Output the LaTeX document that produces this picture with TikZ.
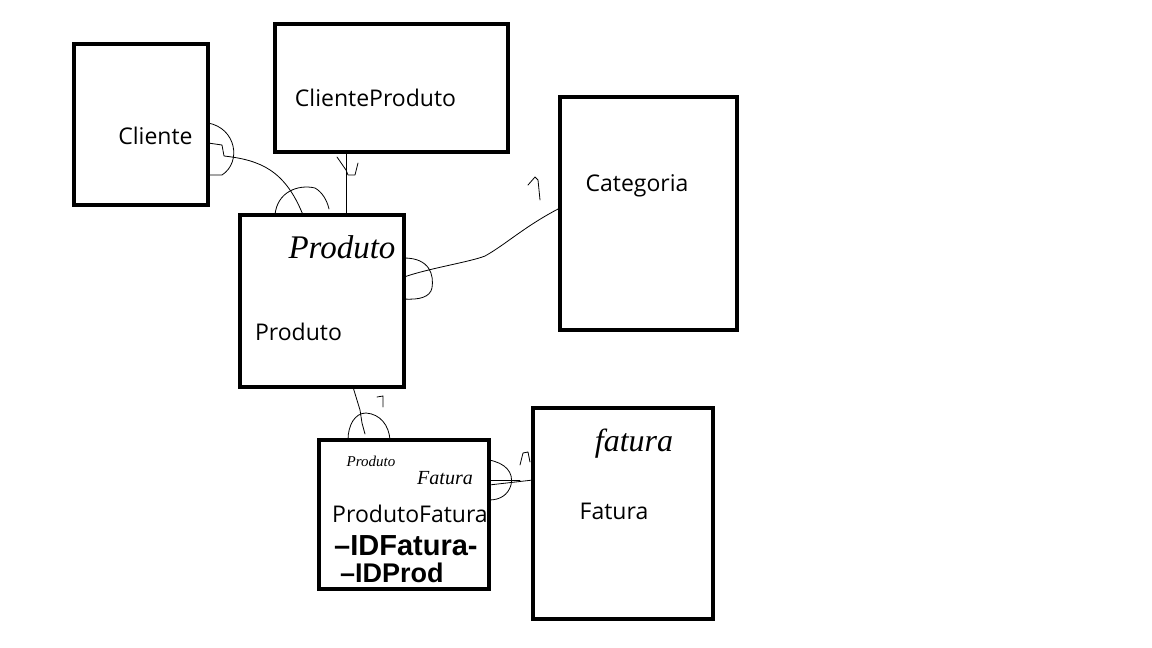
\documentclass[tikz,border=0pt]{standalone}
\usepackage{fontspec}
\setmainfont{Open Sans}
\newfontfamily\handfont{Liberation Serif}
\newfontfamily\boldhand{Liberation Sans}
\begin{document}
\begin{tikzpicture}[x=1pt,y=-1pt,
  entity/.style={draw=black,line width=4pt,minimum width=#1,inner sep=0pt,outer sep=0pt},
  lbl/.style={font=\fontsize{23}{26}\selectfont,inner sep=0pt},
  hand/.style={font=\handfont\itshape\fontsize{#1}{#1}\selectfont,inner sep=0pt},
  boldnote/.style={font=\boldhand\bfseries\fontsize{#1}{#1}\selectfont,inner sep=0pt},
  pen/.style={draw=black,line width=0.8pt,line join=round,line cap=round}]
\useasboundingbox (0,0) rectangle (1152,648);
\fill[white] (0,0) rectangle (1152,648);
% entities
\node[entity=134pt,minimum height=161pt] (cli) at (141,124.5) {};
\node[entity=233pt,minimum height=128pt] (clp) at (391.5,88) {};
\node[entity=177pt,minimum height=233pt] (cat) at (648.5,213.5) {};
\node[entity=164pt,minimum height=172pt] (pro) at (322,301) {};
\node[entity=170pt,minimum height=149pt] (pf) at (404,514.5) {};
\node[entity=180pt,minimum height=211pt] (fat) at (623,513.5) {};
% labels
\node[lbl] (lcli) at (155.5,136) {Cliente};
\node[lbl] (lclp) at (375.5,98) {ClienteProduto};
\node[lbl] (lcat) at (637,186) {Categoria};
\node[lbl] (lpro) at (298.5,332) {Produto};
\node[lbl] (lpf) at (410,514) {ProdutoFatura};
\node[lbl] (lfat) at (614,511) {Fatura};
% handwritten notes
\node[hand=33] (hpro) at (342,247) {Produto};
\node[hand=15] (hpf1) at (371,461) {Produto};
\node[hand=20] (hpf2) at (445,478) {Fatura};
\node[hand=32] (hfat) at (634,444) {fatura};
\node[boldnote=29,anchor=west] (id1) at (334,546) {–IDFatura-};
\node[boldnote=27,anchor=west] (id2) at (340,573) {–IDProd};
% Cliente -- Produto
\draw[pen] (cli.east |- 0,143) -- (222,145) -- (224,156)
  .. controls (260,160) and (285,170) .. (pro.north -| 303,0);
\draw[pen] (cli.east |- 0,123) .. controls (236,128) and (242,162) .. (222,175) -- (cli.east |- 0,175);
\draw[pen] (pro.north -| 275,0) .. controls (277,192) and (298,184) .. (315,188)
  .. controls (322,192) and (327,200) .. (329,209);
% ClienteProduto -- Produto
\draw[pen] (clp.south -| 346.5,0) -- (pro.north -| 346.5,0);
\draw[pen] (337,157) -- (346,170) -- (348,175) -- (355,175) -- (358,163);
% Produto -- Categoria
\draw[pen] (pro.east |- 0,277) .. controls (430,268) and (470,262) .. (485,256)
  .. controls (505,245) and (525,226) .. (cat.west |- 0,208);
\draw[pen] (pro.east |- 0,258) .. controls (430,258) and (434,275) .. (432,288)
  .. controls (430,297) and (420,300) .. (pro.east |- 0,299);
\draw[pen] (528,185) -- (535,177) -- (538,180) -- (540,200);
% Produto -- ProdutoFatura
\draw[pen] (pro.south -| 353,0) -- (360,410) -- (362,423) -- (365,434);
\draw[pen] (pf.north -| 348,0) .. controls (348,425) and (355,413) .. (366,413)
  .. controls (380,414) and (389,425) .. (pf.north -| 390,0);
\draw[pen] (377,397) -- (383,396) -- (383,407);
% ProdutoFatura -- Fatura
\draw[pen] (pf.east |- 0,480) -- (520,480);
\draw[pen] (pf.east |- 0,485) -- (fat.west |- 0,480);
\draw[pen] (pf.east |- 0,460) .. controls (505,463) and (514,472) .. (511,485)
  .. controls (508,495) and (500,500) .. (pf.east |- 0,500);
\draw[pen] (520,465) -- (523,453) -- (528,452) -- (530,462);
\end{tikzpicture}
\end{document}
